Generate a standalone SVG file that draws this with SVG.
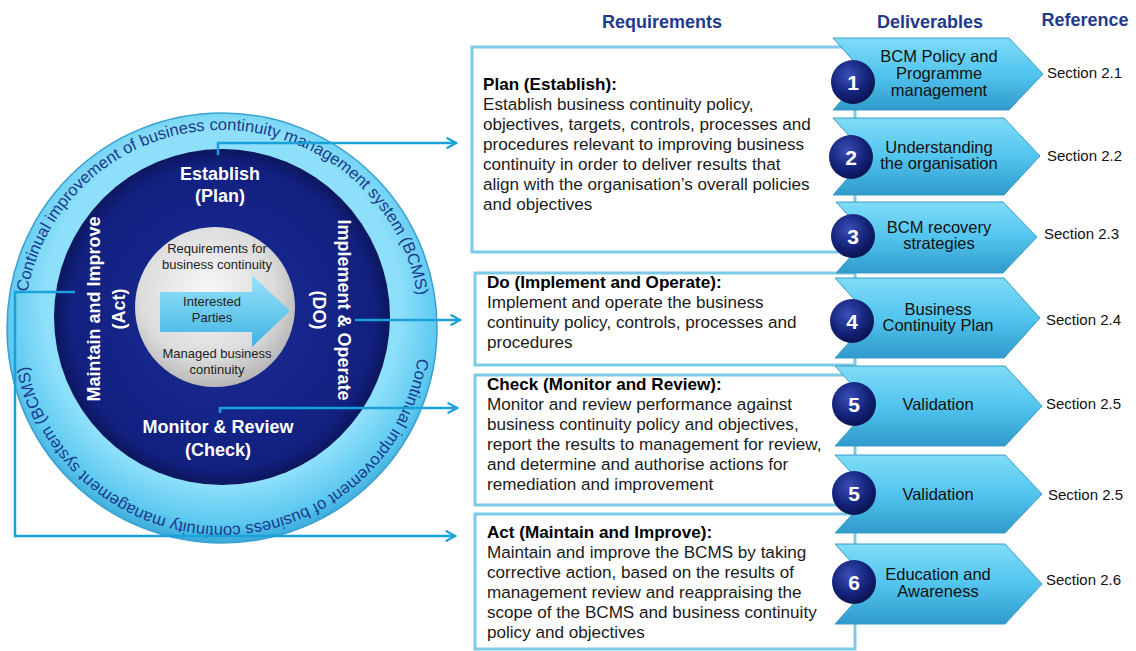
<svg xmlns="http://www.w3.org/2000/svg" width="1136" height="651" viewBox="0 0 1136 651">
<defs>
<style>
text{font-family:"Liberation Sans",Arial,sans-serif}
.hdr{font-size:18px;font-weight:bold;fill:#1f3a8a;text-anchor:middle}
.body{font-size:17.1px;fill:#1a1a1a}
.ttl{font-size:17.1px;font-weight:bold;fill:#000}
.box{fill:#fff;stroke:#7ccbe6;stroke-width:3}
.chev{fill:url(#chevG);stroke:#3b9cc6;stroke-width:1}
.num{fill:url(#numG)}
.numt{font-size:21px;font-weight:bold;fill:#fff;text-anchor:middle}
.lbl{font-size:16.5px;fill:#111;text-anchor:middle}
.sec{font-size:15px;fill:#111}
.wt{font-size:18px;font-weight:bold;fill:#fff;text-anchor:middle}
.gt{font-size:13px;fill:#222;text-anchor:middle}
.ring{font-size:16.5px;fill:#1a3a8c}
.conn{fill:none;stroke:#1ba1d9;stroke-width:2.5}
</style>
<linearGradient id="chevG" x1="0" y1="0" x2="0" y2="1">
<stop offset="0" stop-color="#7fdcf8"/>
<stop offset="0.5" stop-color="#52c4ee"/>
<stop offset="1" stop-color="#2f9bcb"/>
</linearGradient>
<radialGradient id="numG" cx="0.4" cy="0.35" r="0.7">
<stop offset="0" stop-color="#3a4fb8"/>
<stop offset="0.6" stop-color="#14237a"/>
<stop offset="1" stop-color="#08124a"/>
</radialGradient>
<radialGradient id="ringG" cx="0.5" cy="0.45" r="0.55">
<stop offset="0.75" stop-color="#8ee0fa"/>
<stop offset="0.92" stop-color="#5cc8f0"/>
<stop offset="1" stop-color="#3aa8d8"/>
</radialGradient>
<radialGradient id="diskG" cx="0.5" cy="0.5" r="0.5">
<stop offset="0" stop-color="#1a2c96"/>
<stop offset="0.9" stop-color="#122080"/>
<stop offset="1" stop-color="#0c175e"/>
</radialGradient>
<radialGradient id="grayG" cx="0.45" cy="0.4" r="0.6">
<stop offset="0" stop-color="#f7f7f7"/>
<stop offset="0.7" stop-color="#dcdcdc"/>
<stop offset="1" stop-color="#b8b8b8"/>
</radialGradient>
<linearGradient id="arrG" x1="0" y1="0" x2="0" y2="1">
<stop offset="0" stop-color="#9ae3fa"/>
<stop offset="1" stop-color="#3fb4e4"/>
</linearGradient>
<marker id="ah" viewBox="0 0 12 12" refX="10" refY="6" markerWidth="5" markerHeight="5" orient="auto" markerUnits="strokeWidth">
<path d="M1,1 L10,6 L1,11" fill="none" stroke="#1ba1d9" stroke-width="2.2"/>
</marker>
<path id="ringPath" d="M24,328 A198,198 0 1 1 420,328 A198,198 0 1 1 24,328"/>
</defs>

<rect width="1136" height="651" fill="#fff"/>

<g id="headers">
<text class="hdr" x="662" y="28">Requirements</text>
<text class="hdr" x="930" y="28">Deliverables</text>
<text class="hdr" x="1085" y="26">Reference</text>
</g>

<g id="cycle">
<circle cx="222" cy="328" r="215" fill="url(#ringG)" stroke="#3aa0d0" stroke-width="1.5"/>
<text class="ring"><textPath href="#ringPath" startOffset="36">Continual improvement of business continuity management system (BCMS)</textPath></text>
<text class="ring"><textPath href="#ringPath" startOffset="652">Continual improvement of business continuity management system (BCMS)</textPath></text>
<circle cx="222" cy="317" r="168" fill="url(#diskG)"/>
<circle cx="215" cy="307" r="80" fill="url(#grayG)"/>
<polygon points="160,292 252,292 252,275 290,311 252,347 252,332 160,332" fill="url(#arrG)"/>
<text class="gt" x="217" y="253">Requirements for</text>
<text class="gt" x="217" y="269">business continuity</text>
<text class="gt" x="212" y="306">Interested</text>
<text class="gt" x="212" y="322">Parties</text>
<text class="gt" x="217" y="358">Managed business</text>
<text class="gt" x="217" y="374">continuity</text>
<text class="wt" x="220" y="180">Establish</text>
<text class="wt" x="220" y="202">(Plan)</text>
<text class="wt" x="218" y="433">Monitor &amp; Review</text>
<text class="wt" x="218" y="456">(Check)</text>
<text class="wt" transform="translate(100,309) rotate(-90)">Maintain and Improve</text>
<text class="wt" transform="translate(125,309) rotate(-90)">(Act)</text>
<text class="wt" transform="translate(338,310) rotate(90)">Implement &amp; Operate</text>
<text class="wt" transform="translate(313,310) rotate(90)">(DO)</text>
</g>

<g id="connectors">
<path class="conn" d="M218,155 L218,143 L456,143" marker-end="url(#ah)"/>
<path class="conn" d="M355,320 L460,320" marker-end="url(#ah)"/>
<path class="conn" d="M220,413 L220,408 L457,408" marker-end="url(#ah)"/>
<path class="conn" d="M75,292 L15,292 L15,536 L455,536" marker-end="url(#ah)"/>
</g>

<g id="box-plan">
<rect class="box" x="472" y="47" width="383" height="205"/>
<text class="ttl" x="483" y="90">Plan (Establish):</text>
<text class="body" x="483" y="110">Establish business continuity policy,</text>
<text class="body" x="483" y="130">objectives, targets, controls, processes and</text>
<text class="body" x="483" y="150">procedures relevant to improving business</text>
<text class="body" x="483" y="170">continuity in order to deliver results that</text>
<text class="body" x="483" y="190">align with the organisation’s overall policies</text>
<text class="body" x="483" y="210">and objectives</text>
</g>
<g id="box-do">
<rect class="box" x="475" y="273" width="380" height="92"/>
<text class="ttl" x="487" y="288">Do (Implement and Operate):</text>
<text class="body" x="487" y="308">Implement and operate the business</text>
<text class="body" x="487" y="328">continuity policy, controls, processes and</text>
<text class="body" x="487" y="348">procedures</text>
</g>
<g id="box-check">
<rect class="box" x="475" y="375" width="380" height="130"/>
<text class="ttl" x="487" y="390">Check (Monitor and Review):</text>
<text class="body" x="487" y="410">Monitor and review performance against</text>
<text class="body" x="487" y="430">business continuity policy and objectives,</text>
<text class="body" x="487" y="450">report the results to management for review,</text>
<text class="body" x="487" y="470">and determine and authorise actions for</text>
<text class="body" x="487" y="490">remediation and improvement</text>
</g>
<g id="box-act">
<rect class="box" x="475" y="514" width="380" height="135"/>
<text class="ttl" x="487" y="538">Act (Maintain and Improve):</text>
<text class="body" x="487" y="558">Maintain and improve the BCMS by taking</text>
<text class="body" x="487" y="578">corrective action, based on the results of</text>
<text class="body" x="487" y="598">management review and reappraising the</text>
<text class="body" x="487" y="618">scope of the BCMS and business continuity</text>
<text class="body" x="487" y="638">policy and objectives</text>
</g>

<g id="d1">
<path class="chev" d="M833,38 L1009,38 L1043,74 L1009,110 L833,110 L865,74 Z"/>
<circle class="num" cx="853" cy="82" r="22"/>
<text class="numt" x="853" y="90">1</text>
<text class="lbl" x="939" y="62">BCM Policy and</text>
<text class="lbl" x="939" y="79">Programme</text>
<text class="lbl" x="939" y="96">management</text>
<text class="sec" x="1047" y="78">Section 2.1</text>
</g>
<g id="d2">
<path class="chev" d="M833,118 L1004,118 L1040,156 L1004,195 L833,195 L867,156 Z"/>
<circle class="num" cx="851" cy="157" r="22"/>
<text class="numt" x="851" y="165">2</text>
<text class="lbl" x="939" y="153">Understanding</text>
<text class="lbl" x="939" y="169">the organisation</text>
<text class="sec" x="1047" y="161">Section 2.2</text>
</g>
<g id="d3">
<path class="chev" d="M836,202 L1003,202 L1037,237 L1003,273 L836,273 L868,237 Z"/>
<circle class="num" cx="853" cy="236" r="22"/>
<text class="numt" x="853" y="244">3</text>
<text class="lbl" x="939" y="233">BCM recovery</text>
<text class="lbl" x="939" y="249">strategies</text>
<text class="sec" x="1044" y="239">Section 2.3</text>
</g>
<g id="d4">
<path class="chev" d="M835,278 L1004,278 L1040,318 L1004,358 L835,358 L871,318 Z"/>
<circle class="num" cx="852" cy="321" r="22"/>
<text class="numt" x="852" y="329">4</text>
<text class="lbl" x="938" y="315">Business</text>
<text class="lbl" x="938" y="331">Continuity Plan</text>
<text class="sec" x="1046" y="325">Section 2.4</text>
</g>
<g id="d5a">
<path class="chev" d="M835,366 L1005,366 L1042,406 L1005,446 L835,446 L871,406 Z"/>
<circle class="num" cx="854" cy="404" r="22"/>
<text class="numt" x="854" y="412">5</text>
<text class="lbl" x="938" y="410">Validation</text>
<text class="sec" x="1046" y="409">Section 2.5</text>
</g>
<g id="d5b">
<path class="chev" d="M835,455 L1005,455 L1042,494 L1005,533 L835,533 L871,494 Z"/>
<circle class="num" cx="854" cy="493" r="22"/>
<text class="numt" x="854" y="501">5</text>
<text class="lbl" x="938" y="500">Validation</text>
<text class="sec" x="1048" y="500">Section 2.5</text>
</g>
<g id="d6">
<path class="chev" d="M835,544 L1005,544 L1042,584 L1005,624 L835,624 L871,584 Z"/>
<circle class="num" cx="854" cy="582" r="22"/>
<text class="numt" x="854" y="590">6</text>
<text class="lbl" x="938" y="580">Education and</text>
<text class="lbl" x="938" y="597">Awareness</text>
<text class="sec" x="1046" y="585">Section 2.6</text>
</g>
</svg>
